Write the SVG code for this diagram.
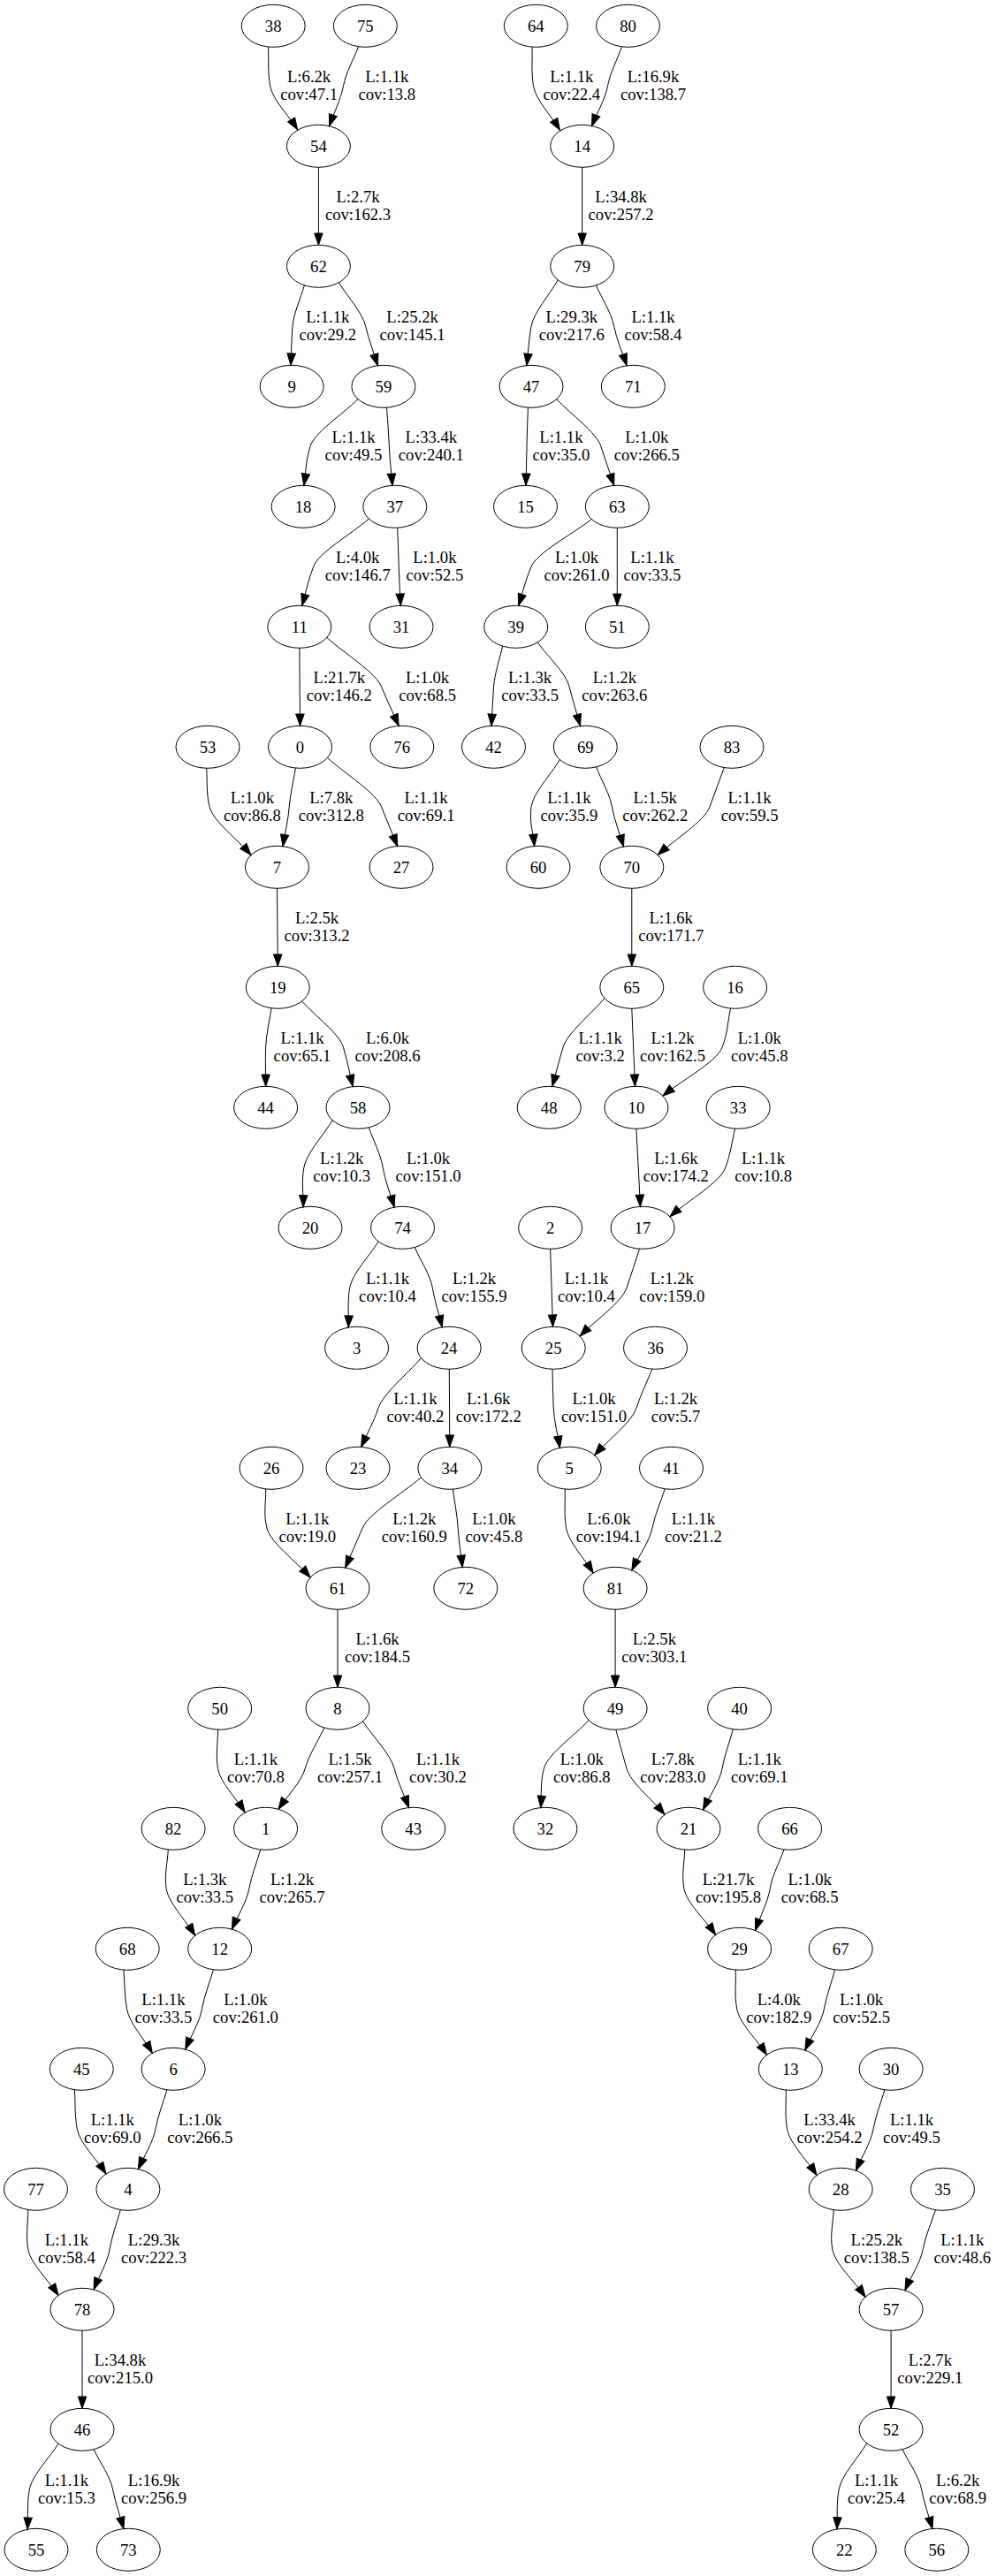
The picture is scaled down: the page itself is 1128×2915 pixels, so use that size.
<svg xmlns="http://www.w3.org/2000/svg" width="1128" height="2915" viewBox="0 0 1128 2915">
<defs>
<style>
.n ellipse{fill:none;stroke:#000;stroke-width:1}
text{font-family:"Liberation Serif","Times New Roman",serif;font-size:18.67px;text-anchor:middle;fill:#000}
.e path{fill:none;stroke:#000;stroke-width:1;marker-end:url(#ah)}
</style>
<marker id="ah" viewBox="0 0 13.3 9.4" refX="13.3" refY="4.7" markerWidth="13.3" markerHeight="9.4" markerUnits="userSpaceOnUse" orient="auto" overflow="visible"><path d="M0,0 L13.3,4.7 L0,9.4 Z" fill="#000" stroke="#000" stroke-width="1"/></marker>
</defs>
<rect width="1128" height="2915" fill="#fff"/>
<g id="connectors" class="e">
<g id="e38_54"><path d="M303.5,53 C304.2,67.8 302.8,81.7 305.6,97.3 S326.3,130.2 336.6,146.7"/><text x="349.6" y="93.3">L:6.2k<tspan x="349.6" dy="20">cov:47.1</tspan></text></g>
<g id="e75_54"><path d="M405.5,53 C399.8,67.8 391.3,82.3 388.5,97.3 S377.8,127.6 372.5,142.7"/><text x="437.8" y="93.3">L:1.1k<tspan x="437.8" dy="20">cov:13.8</tspan></text></g>
<g id="e64_14"><path d="M602,53.3 C602.5,68 600.9,81.6 603.5,97.3 S623.5,130.6 633.5,147.3"/><text x="646.8" y="93.3">L:1.1k<tspan x="646.8" dy="20">cov:22.4</tspan></text></g>
<g id="e80_14"><path d="M703.5,53 C698.2,67.8 690.3,82.3 687.5,97.3 S675.5,127.6 669.5,142.7"/><text x="739" y="93.3">L:16.9k<tspan x="739" dy="20">cov:138.7</tspan></text></g>
<g id="e54_62"><path d="M360.4,189.3 L360.4,277.3"/><text x="405" y="229.3">L:2.7k<tspan x="405" dy="20">cov:162.3</tspan></text></g>
<g id="e14_79"><path d="M658.7,189.3 L658.7,277.3"/><text x="702.6" y="229.3">L:34.8k<tspan x="702.6" dy="20">cov:257.2</tspan></text></g>
<g id="e62_9"><path d="M344.4,322.8 C339.9,338.3 332.3,354.2 331,369.3 S329.7,398.6 329,413.3"/><text x="370.8" y="365.3">L:1.1k<tspan x="370.8" dy="20">cov:29.2</tspan></text></g>
<g id="e62_59"><path d="M383.4,319.8 C393.5,336.3 410,353.6 413.7,369.3 S422.8,398.9 427.4,413.7"/><text x="466.6" y="365.3">L:25.2k<tspan x="466.6" dy="20">cov:145.1</tspan></text></g>
<g id="e79_47"><path d="M631.3,316.9 C621.2,334.4 603.9,353.2 601,369.3 S597.7,398.8 596,413.5"/><text x="646.8" y="365.3">L:29.3k<tspan x="646.8" dy="20">cov:217.6</tspan></text></g>
<g id="e79_71"><path d="M674.5,322.9 C681.2,338.4 691.8,354.1 694.7,369.3 S704.3,399 709.1,413.8"/><text x="739" y="365.3">L:1.1k<tspan x="739" dy="20">cov:58.4</tspan></text></g>
<g id="e59_18"><path d="M405,451.6 C387,469.5 356,489 350.9,505.3 S346.2,534.6 343.8,549.3"/><text x="400" y="501.3">L:1.1k<tspan x="400" dy="20">cov:49.5</tspan></text></g>
<g id="e59_37"><path d="M437.5,461.2 C438.5,475.9 439.9,490.6 440.4,505.3 S442.8,534.7 444,549.4"/><text x="487.9" y="501.3">L:33.4k<tspan x="487.9" dy="20">cov:240.1</tspan></text></g>
<g id="e47_15"><path d="M597.4,461.2 C596.9,475.9 596.2,490.6 596,505.3 S595.3,534.6 595,549.3"/><text x="634.9" y="501.3">L:1.1k<tspan x="634.9" dy="20">cov:35.0</tspan></text></g>
<g id="e47_63"><path d="M629.8,451.7 C646.5,469.6 674.6,489 680,505.3 S689.8,534.7 694.7,549.4"/><text x="731.8" y="501.3">L:1.0k<tspan x="731.8" dy="20">cov:266.5</tspan></text></g>
<g id="e37_11"><path d="M417.3,587.1 C396.4,605.2 360.9,624.9 354.6,641.3 S345.9,670.7 341.6,685.4"/><text x="404.7" y="637.3">L:4.0k<tspan x="404.7" dy="20">cov:146.7</tspan></text></g>
<g id="e37_31"><path d="M449.7,597.2 C450.2,611.9 450.9,626.6 451.2,641.3 S452.6,670.6 453.3,685.3"/><text x="491.9" y="637.3">L:1.0k<tspan x="491.9" dy="20">cov:52.5</tspan></text></g>
<g id="e63_39"><path d="M669.3,587.5 C646.5,605.4 607.9,625 601,641.3 S591.4,670.7 586.6,685.4"/><text x="652.5" y="637.3">L:1.0k<tspan x="652.5" dy="20">cov:261.0</tspan></text></g>
<g id="e63_51"><path d="M698.3,597.3 L698.3,685.3"/><text x="737.9" y="637.3">L:1.1k<tspan x="737.9" dy="20">cov:33.5</tspan></text></g>
<g id="e11_0"><path d="M338.8,733.3 L339.5,821.3"/><text x="383.8" y="773.3">L:21.7k<tspan x="383.8" dy="20">cov:146.2</tspan></text></g>
<g id="e11_76"><path d="M369.8,721.5 C390.4,740.1 424.9,760.6 431.7,777.3 S444.7,806.7 451.2,821.4"/><text x="483.6" y="773.3">L:1.0k<tspan x="483.6" dy="20">cov:68.5</tspan></text></g>
<g id="e39_42"><path d="M568.6,731.1 C565.2,746.5 559.6,762.2 558.5,777.3 S556.8,806.7 556,821.4"/><text x="599.6" y="773.3">L:1.3k<tspan x="599.6" dy="20">cov:33.5</tspan></text></g>
<g id="e39_69"><path d="M608.2,726.9 C620.2,743.7 640.2,761.5 644.2,777.3 S652.4,806.8 656.5,821.6"/><text x="695.4" y="773.3">L:1.2k<tspan x="695.4" dy="20">cov:263.6</tspan></text></g>
<g id="e53_7"><path d="M233.6,869.3 C234.8,884 233,896.9 237.2,913.3 S268.4,949.4 284,967.5"/><text x="285.4" y="909.3">L:1.0k<tspan x="285.4" dy="20">cov:86.8</tspan></text></g>
<g id="e0_7"><path d="M334.4,869.1 C332,883.8 328.4,898.5 327.2,913.3 S322.4,942.9 320,957.7"/><text x="374.8" y="909.3">L:7.8k<tspan x="374.8" dy="20">cov:312.8</tspan></text></g>
<g id="e0_27"><path d="M370.5,857.5 C390.9,876.1 425.1,896.6 431.7,913.3 S443.7,942.8 449.7,957.5"/><text x="482.1" y="909.3">L:1.1k<tspan x="482.1" dy="20">cov:69.1</tspan></text></g>
<g id="e69_60"><path d="M633.4,859.6 C622.6,877.5 603.4,897 601,913.3 S603.4,942.8 604.6,957.5"/><text x="643.9" y="909.3">L:1.1k<tspan x="643.9" dy="20">cov:35.9</tspan></text></g>
<g id="e69_70"><path d="M674.5,867.9 C680.5,883 689.9,898.3 692.5,913.3 S701.2,943.2 705.5,958.1"/><text x="741.2" y="909.3">L:1.5k<tspan x="741.2" dy="20">cov:262.2</tspan></text></g>
<g id="e83_70"><path d="M819.3,868.6 C813.8,883.5 809,896.8 802.8,913.3 S763.8,949.4 744.3,967.5"/><text x="848.1" y="909.3">L:1.1k<tspan x="848.1" dy="20">cov:59.5</tspan></text></g>
<g id="e7_19"><path d="M313.5,1005.3 L314.3,1093.3"/><text x="358.6" y="1045.3">L:2.5k<tspan x="358.6" dy="20">cov:313.2</tspan></text></g>
<g id="e70_65"><path d="M714.8,1005.3 L714.8,1093.3"/><text x="759.2" y="1045.3">L:1.6k<tspan x="759.2" dy="20">cov:171.7</tspan></text></g>
<g id="e19_44"><path d="M307.1,1140.8 C304.9,1155.6 301.1,1170.5 300.6,1185.3 S300.6,1214.6 300.6,1229.3"/><text x="342" y="1181.3">L:1.1k<tspan x="342" dy="20">cov:65.1</tspan></text></g>
<g id="e19_58"><path d="M341.6,1132.9 C357.2,1150.4 383.7,1169.2 388.5,1185.3 S395.7,1214.8 399.3,1229.6"/><text x="438.5" y="1181.3">L:6.0k<tspan x="438.5" dy="20">cov:208.6</tspan></text></g>
<g id="e65_48"><path d="M683.9,1129.6 C668.3,1148.2 641.9,1168.7 637,1185.3 S628.9,1214.7 624.8,1229.4"/><text x="679.2" y="1181.3">L:1.1k<tspan x="679.2" dy="20">cov:3.2</tspan></text></g>
<g id="e65_10"><path d="M714.8,1141.3 L718.5,1229.3"/><text x="761" y="1181.3">L:1.2k<tspan x="761" dy="20">cov:162.5</tspan></text></g>
<g id="e16_10"><path d="M826.5,1141.1 C823.3,1155.8 823.4,1168.8 817,1185.3 S772.3,1221.8 750,1240"/><text x="859.3" y="1181.3">L:1.0k<tspan x="859.3" dy="20">cov:45.8</tspan></text></g>
<g id="e58_20"><path d="M376.2,1267.7 C365.4,1285.6 346.6,1304.9 343.8,1321.3 S343.3,1351 343.1,1365.9"/><text x="386.7" y="1317.3">L:1.2k<tspan x="386.7" dy="20">cov:10.3</tspan></text></g>
<g id="e58_74"><path d="M417.3,1275.9 C422.6,1291 430.8,1306.3 433.2,1321.3 S441.8,1351.2 446.1,1366.1"/><text x="484.6" y="1317.3">L:1.0k<tspan x="484.6" dy="20">cov:151.0</tspan></text></g>
<g id="e10_17"><path d="M719.9,1277.3 L724.5,1365.4"/><text x="764.9" y="1317.3">L:1.6k<tspan x="764.9" dy="20">cov:174.2</tspan></text></g>
<g id="e33_17"><path d="M831.6,1277.2 C828,1291.9 826.9,1304.7 820.8,1321.3 S778.9,1358.2 758,1376.7"/><text x="863.6" y="1317.3">L:1.1k<tspan x="863.6" dy="20">cov:10.8</tspan></text></g>
<g id="e74_3"><path d="M428.1,1404.9 C417.3,1422.4 398.5,1441.1 395.7,1457.3 S394.7,1487.2 394.2,1502.1"/><text x="438.5" y="1453.3">L:1.1k<tspan x="438.5" dy="20">cov:10.4</tspan></text></g>
<g id="e74_24"><path d="M469.2,1411.5 C475.9,1426.8 486.7,1442.2 489.3,1457.3 S496.6,1487 500.2,1501.9"/><text x="536.5" y="1453.3">L:1.2k<tspan x="536.5" dy="20">cov:155.9</tspan></text></g>
<g id="e2_25"><path d="M622.6,1413.3 L625.5,1501.3"/><text x="663.4" y="1453.3">L:1.1k<tspan x="663.4" dy="20">cov:10.4</tspan></text></g>
<g id="e17_25"><path d="M723.5,1413.2 C718.7,1427.9 714.6,1440.8 709,1457.3 S673.8,1493.8 656.2,1512"/><text x="760.3" y="1453.3">L:1.2k<tspan x="760.3" dy="20">cov:159.0</tspan></text></g>
<g id="e24_23"><path d="M476.4,1536.7 C460.3,1555.6 433.8,1576.5 428.1,1593.3 S415.1,1622.7 408.6,1637.4"/><text x="469.9" y="1589.3">L:1.1k<tspan x="469.9" dy="20">cov:40.2</tspan></text></g>
<g id="e24_34"><path d="M508.3,1549.3 L508.8,1637.3"/><text x="552.7" y="1589.3">L:1.6k<tspan x="552.7" dy="20">cov:172.2</tspan></text></g>
<g id="e25_5"><path d="M625,1549.3 C625.4,1564 625.5,1578.5 626.2,1593.3 S631,1623.4 633.4,1638.4"/><text x="672" y="1589.3">L:1.0k<tspan x="672" dy="20">cov:151.0</tspan></text></g>
<g id="e36_5"><path d="M737.9,1549.2 C731.9,1563.9 725.4,1577.1 720,1593.3 S688.5,1628.9 672.8,1646.7"/><text x="764.6" y="1589.3">L:1.2k<tspan x="764.6" dy="20">cov:5.7</tspan></text></g>
<g id="e26_61"><path d="M300.6,1684.9 C301.1,1699.7 297.8,1712.6 302,1729.3 S334.7,1766.4 351.1,1785"/><text x="347.8" y="1725.3">L:1.1k<tspan x="347.8" dy="20">cov:19.0</tspan></text></g>
<g id="e34_61"><path d="M476.4,1671.8 C454.3,1691 417.2,1712.3 410,1729.3 S397.1,1759.1 390.6,1774"/><text x="468.8" y="1725.3">L:1.2k<tspan x="468.8" dy="20">cov:160.9</tspan></text></g>
<g id="e34_72"><path d="M512.4,1685.2 C514.3,1699.9 517.3,1714.6 518.2,1729.3 S521.5,1758.7 523.2,1773.4"/><text x="558.9" y="1725.3">L:1.0k<tspan x="558.9" dy="20">cov:45.8</tspan></text></g>
<g id="e5_81"><path d="M639.2,1685.1 C639.7,1699.8 637.9,1713.5 640.6,1729.3 S660.9,1763.1 671.1,1780"/><text x="688.9" y="1725.3">L:6.0k<tspan x="688.9" dy="20">cov:194.1</tspan></text></g>
<g id="e41_81"><path d="M752.3,1684.8 C747.5,1699.6 741,1714 737.9,1729.3 S722.5,1761 714.8,1776.8"/><text x="784.4" y="1725.3">L:1.1k<tspan x="784.4" dy="20">cov:21.2</tspan></text></g>
<g id="e61_8"><path d="M382,1821.3 L382,1909.3"/><text x="427" y="1861.3">L:1.6k<tspan x="427" dy="20">cov:184.5</tspan></text></g>
<g id="e81_49"><path d="M696.1,1821.3 L696.1,1909.3"/><text x="740.4" y="1861.3">L:2.5k<tspan x="740.4" dy="20">cov:303.1</tspan></text></g>
<g id="e50_1"><path d="M246.5,1957.3 C246.5,1972 244,1985.7 246.5,2001.3 S266.8,2034.2 277,2050.7"/><text x="289.4" y="1997.3">L:1.1k<tspan x="289.4" dy="20">cov:70.8</tspan></text></g>
<g id="e8_1"><path d="M366.9,1955.1 C359.7,1970.5 349.5,1985.9 345.2,2001.3 S325.1,2032 315,2047.3"/><text x="396" y="1997.3">L:1.5k<tspan x="396" dy="20">cov:257.1</tspan></text></g>
<g id="e8_43"><path d="M410.6,1947.9 C422.4,1965.7 441.8,1985 446.1,2001.3 S457.1,2030.8 462.6,2045.5"/><text x="495.5" y="1997.3">L:1.1k<tspan x="495.5" dy="20">cov:30.2</tspan></text></g>
<g id="e49_32"><path d="M666.1,1946.6 C649.2,1964.8 619.9,1984.8 615.4,2001.3 S613,2030.8 611.8,2045.5"/><text x="658.3" y="1997.3">L:1.0k<tspan x="658.3" dy="20">cov:86.8</tspan></text></g>
<g id="e49_21"><path d="M696.8,1957.3 C700.9,1972 704.4,1985.3 709,2001.3 S737.7,2036 752,2053.4"/><text x="761.3" y="1997.3">L:7.8k<tspan x="761.3" dy="20">cov:283.0</tspan></text></g>
<g id="e40_21"><path d="M829.4,1956.8 C825.3,1971.6 819.8,1986.1 817,2001.3 S802.7,2032.4 795.5,2048"/><text x="859.3" y="1997.3">L:1.1k<tspan x="859.3" dy="20">cov:69.1</tspan></text></g>
<g id="e82_12"><path d="M190.3,2093 C189.6,2107.8 185.7,2121.1 188.2,2137.3 S209.9,2172.6 220.7,2190.2"/><text x="231.8" y="2133.3">L:1.3k<tspan x="231.8" dy="20">cov:33.5</tspan></text></g>
<g id="e1_12"><path d="M294.8,2093 C290.5,2107.8 284.5,2122.3 281.8,2137.3 S268.9,2167.8 262.4,2183.1"/><text x="330.5" y="2133.3">L:1.2k<tspan x="330.5" dy="20">cov:265.7</tspan></text></g>
<g id="e21_29"><path d="M774.7,2093.1 C774.4,2107.8 771,2121.3 773.9,2137.3 S797.7,2172 809.6,2189.4"/><text x="824" y="2133.3">L:21.7k<tspan x="824" dy="20">cov:195.8</tspan></text></g>
<g id="e66_29"><path d="M887,2092.9 C881.7,2107.7 873.9,2122 871.2,2137.3 S860.1,2168.8 854.6,2184.5"/><text x="916.2" y="2133.3">L:1.0k<tspan x="916.2" dy="20">cov:68.5</tspan></text></g>
<g id="e68_6"><path d="M139.9,2229.1 C141.1,2243.8 140.8,2257.6 143.5,2273.3 S162.7,2306.6 172.3,2323.3"/><text x="184.9" y="2269.3">L:1.1k<tspan x="184.9" dy="20">cov:33.5</tspan></text></g>
<g id="e12_6"><path d="M241.5,2228.8 C237.2,2243.6 231.1,2258.3 228.5,2273.3 S216,2303.8 209.8,2319.1"/><text x="277.9" y="2269.3">L:1.0k<tspan x="277.9" dy="20">cov:261.0</tspan></text></g>
<g id="e29_13"><path d="M832.3,2229.1 C832.8,2243.8 830.8,2257.3 833.7,2273.3 S856.2,2308 867.5,2325.3"/><text x="881.3" y="2269.3">L:4.0k<tspan x="881.3" dy="20">cov:182.9</tspan></text></g>
<g id="e67_13"><path d="M944.7,2228.9 C940.6,2243.7 935.2,2258.1 932.4,2273.3 S918,2304.4 910.8,2320"/><text x="974.6" y="2269.3">L:1.0k<tspan x="974.6" dy="20">cov:52.5</tspan></text></g>
<g id="e45_4"><path d="M84.4,2364.7 C85.4,2379.6 84.3,2393.4 87.3,2409.3 S109.1,2443.1 120,2460"/><text x="127.3" y="2405.3">L:1.1k<tspan x="127.3" dy="20">cov:69.0</tspan></text></g>
<g id="e6_4"><path d="M188.9,2364.8 C184.6,2379.6 178.6,2394.3 175.9,2409.3 S163,2439.5 156.5,2454.6"/><text x="226.4" y="2405.3">L:1.0k<tspan x="226.4" dy="20">cov:266.5</tspan></text></g>
<g id="e13_28"><path d="M889.2,2365.1 C889.7,2379.8 887.7,2393.2 890.6,2409.3 S912.9,2444.2 924,2461.6"/><text x="938.6" y="2405.3">L:33.4k<tspan x="938.6" dy="20">cov:254.2</tspan></text></g>
<g id="e30_28"><path d="M1000.9,2364.8 C996.6,2379.6 990.7,2394.1 988,2409.3 S975,2440.6 968.5,2456.2"/><text x="1031.5" y="2405.3">L:1.1k<tspan x="1031.5" dy="20">cov:49.5</tspan></text></g>
<g id="e77_78"><path d="M31.8,2500.6 C31.8,2515.5 29,2529.2 31.8,2545.3 S54.6,2580 66,2597.4"/><text x="75.4" y="2541.3">L:1.1k<tspan x="75.4" dy="20">cov:58.4</tspan></text></g>
<g id="e4_78"><path d="M136.3,2500.6 C132.2,2515.5 126.6,2530.3 124.1,2545.3 S112.1,2575.7 106.1,2590.9"/><text x="174.1" y="2541.3">L:29.3k<tspan x="174.1" dy="20">cov:222.3</tspan></text></g>
<g id="e28_57"><path d="M943.2,2500.7 C942.7,2515.6 938.8,2528.9 941.8,2545.3 S966.6,2581.2 979,2599.2"/><text x="991.9" y="2541.3">L:25.2k<tspan x="991.9" dy="20">cov:138.5</tspan></text></g>
<g id="e35_57"><path d="M1058.5,2500.7 C1053.7,2515.6 1047.1,2530.1 1044.2,2545.3 S1030.7,2576.2 1023.9,2591.7"/><text x="1088.8" y="2541.3">L:1.1k<tspan x="1088.8" dy="20">cov:48.6</tspan></text></g>
<g id="e78_46"><path d="M93,2637.3 L93,2725.3"/><text x="136" y="2677.3">L:34.8k<tspan x="136" dy="20">cov:215.0</tspan></text></g>
<g id="e57_52"><path d="M1008.1,2637.3 L1008.1,2725.3"/><text x="1052.4" y="2677.3">L:2.7k<tspan x="1052.4" dy="20">cov:229.1</tspan></text></g>
<g id="e46_55"><path d="M66,2765.2 C55.1,2782.6 36.2,2801.1 33.3,2817.3 S31.8,2847.2 31.1,2862.2"/><text x="75.4" y="2813.3">L:1.1k<tspan x="75.4" dy="20">cov:15.3</tspan></text></g>
<g id="e46_73"><path d="M106.1,2771.7 C113.3,2786.9 124.9,2802.3 127.7,2817.3 S135.8,2846.8 139.9,2861.6"/><text x="174.1" y="2813.3">L:16.9k<tspan x="174.1" dy="20">cov:256.9</tspan></text></g>
<g id="e52_22"><path d="M980.7,2764.9 C970.2,2782.4 951.9,2801.1 949.1,2817.3 S947.6,2847.1 946.9,2862"/><text x="991.5" y="2813.3">L:1.1k<tspan x="991.5" dy="20">cov:25.4</tspan></text></g>
<g id="e52_56"><path d="M1021.1,2771.7 C1028.3,2786.9 1039.9,2802.3 1042.7,2817.3 S1050.8,2846.8 1054.9,2861.5"/><text x="1083.7" y="2813.3">L:6.2k<tspan x="1083.7" dy="20">cov:68.9</tspan></text></g>
</g>
<g id="nodes" class="n">
<g id="n38"><ellipse cx="309.2" cy="29.3" rx="36" ry="24"/><text x="309.2" y="35.8">38</text></g>
<g id="n75"><ellipse cx="413.3" cy="29.3" rx="36" ry="24"/><text x="413.3" y="35.8">75</text></g>
<g id="n64"><ellipse cx="606.3" cy="29.3" rx="36" ry="24"/><text x="606.3" y="35.8">64</text></g>
<g id="n80"><ellipse cx="710.5" cy="29.3" rx="36" ry="24"/><text x="710.5" y="35.8">80</text></g>
<g id="n54"><ellipse cx="360.4" cy="165.3" rx="36" ry="24"/><text x="360.4" y="171.8">54</text></g>
<g id="n14"><ellipse cx="658.7" cy="165.3" rx="36" ry="24"/><text x="658.7" y="171.8">14</text></g>
<g id="n62"><ellipse cx="360.4" cy="301.3" rx="36" ry="24"/><text x="360.4" y="307.8">62</text></g>
<g id="n79"><ellipse cx="658.7" cy="301.3" rx="36" ry="24"/><text x="658.7" y="307.8">79</text></g>
<g id="n9"><ellipse cx="330.1" cy="437.3" rx="36" ry="24"/><text x="330.1" y="443.8">9</text></g>
<g id="n59"><ellipse cx="433.9" cy="437.3" rx="36" ry="24"/><text x="433.9" y="443.8">59</text></g>
<g id="n47"><ellipse cx="601" cy="437.3" rx="36" ry="24"/><text x="601" y="443.8">47</text></g>
<g id="n71"><ellipse cx="716.3" cy="437.3" rx="36" ry="24"/><text x="716.3" y="443.8">71</text></g>
<g id="n18"><ellipse cx="343.1" cy="573.3" rx="36" ry="24"/><text x="343.1" y="579.8">18</text></g>
<g id="n37"><ellipse cx="446.8" cy="573.3" rx="36" ry="24"/><text x="446.8" y="579.8">37</text></g>
<g id="n15"><ellipse cx="594.5" cy="573.3" rx="36" ry="24"/><text x="594.5" y="579.8">15</text></g>
<g id="n63"><ellipse cx="698.3" cy="573.3" rx="36" ry="24"/><text x="698.3" y="579.8">63</text></g>
<g id="n11"><ellipse cx="338.8" cy="709.3" rx="36" ry="24"/><text x="338.8" y="715.8">11</text></g>
<g id="n31"><ellipse cx="454" cy="709.3" rx="36" ry="24"/><text x="454" y="715.8">31</text></g>
<g id="n39"><ellipse cx="583.7" cy="709.3" rx="36" ry="24"/><text x="583.7" y="715.8">39</text></g>
<g id="n51"><ellipse cx="698.3" cy="709.3" rx="36" ry="24"/><text x="698.3" y="715.8">51</text></g>
<g id="n53"><ellipse cx="235" cy="845.3" rx="36" ry="24"/><text x="235" y="851.8">53</text></g>
<g id="n0"><ellipse cx="339.5" cy="845.3" rx="36" ry="24"/><text x="339.5" y="851.8">0</text></g>
<g id="n76"><ellipse cx="454.8" cy="845.3" rx="36" ry="24"/><text x="454.8" y="851.8">76</text></g>
<g id="n42"><ellipse cx="558.5" cy="845.3" rx="36" ry="24"/><text x="558.5" y="851.8">42</text></g>
<g id="n69"><ellipse cx="662.3" cy="845.3" rx="36" ry="24"/><text x="662.3" y="851.8">69</text></g>
<g id="n83"><ellipse cx="828" cy="845.3" rx="36" ry="24"/><text x="828" y="851.8">83</text></g>
<g id="n7"><ellipse cx="313.5" cy="981.3" rx="36" ry="24"/><text x="313.5" y="987.8">7</text></g>
<g id="n27"><ellipse cx="454" cy="981.3" rx="36" ry="24"/><text x="454" y="987.8">27</text></g>
<g id="n60"><ellipse cx="609" cy="981.3" rx="36" ry="24"/><text x="609" y="987.8">60</text></g>
<g id="n70"><ellipse cx="714.8" cy="981.3" rx="36" ry="24"/><text x="714.8" y="987.8">70</text></g>
<g id="n19"><ellipse cx="314.3" cy="1117.3" rx="36" ry="24"/><text x="314.3" y="1123.8">19</text></g>
<g id="n65"><ellipse cx="714.8" cy="1117.3" rx="36" ry="24"/><text x="714.8" y="1123.8">65</text></g>
<g id="n16"><ellipse cx="831.6" cy="1117.3" rx="36" ry="24"/><text x="831.6" y="1123.8">16</text></g>
<g id="n44"><ellipse cx="300.6" cy="1253.3" rx="36" ry="24"/><text x="300.6" y="1259.8">44</text></g>
<g id="n58"><ellipse cx="405" cy="1253.3" rx="36" ry="24"/><text x="405" y="1259.8">58</text></g>
<g id="n48"><ellipse cx="621.2" cy="1253.3" rx="36" ry="24"/><text x="621.2" y="1259.8">48</text></g>
<g id="n10"><ellipse cx="719.9" cy="1253.3" rx="36" ry="24"/><text x="719.9" y="1259.8">10</text></g>
<g id="n33"><ellipse cx="835.2" cy="1253.3" rx="36" ry="24"/><text x="835.2" y="1259.8">33</text></g>
<g id="n20"><ellipse cx="351" cy="1389.3" rx="36" ry="24"/><text x="351" y="1395.8">20</text></g>
<g id="n74"><ellipse cx="455.5" cy="1389.3" rx="36" ry="24"/><text x="455.5" y="1395.8">74</text></g>
<g id="n2"><ellipse cx="622.6" cy="1389.3" rx="36" ry="24"/><text x="622.6" y="1395.8">2</text></g>
<g id="n17"><ellipse cx="727.1" cy="1389.3" rx="36" ry="24"/><text x="727.1" y="1395.8">17</text></g>
<g id="n3"><ellipse cx="403.6" cy="1525.3" rx="36" ry="24"/><text x="403.6" y="1531.8">3</text></g>
<g id="n24"><ellipse cx="508.1" cy="1525.3" rx="36" ry="24"/><text x="508.1" y="1531.8">24</text></g>
<g id="n25"><ellipse cx="626.2" cy="1525.3" rx="36" ry="24"/><text x="626.2" y="1531.8">25</text></g>
<g id="n36"><ellipse cx="741.5" cy="1525.3" rx="36" ry="24"/><text x="741.5" y="1531.8">36</text></g>
<g id="n26"><ellipse cx="307" cy="1661.3" rx="36" ry="24"/><text x="307" y="1667.8">26</text></g>
<g id="n23"><ellipse cx="405" cy="1661.3" rx="36" ry="24"/><text x="405" y="1667.8">23</text></g>
<g id="n34"><ellipse cx="508.8" cy="1661.3" rx="36" ry="24"/><text x="508.8" y="1667.8">34</text></g>
<g id="n5"><ellipse cx="644.2" cy="1661.3" rx="36" ry="24"/><text x="644.2" y="1667.8">5</text></g>
<g id="n41"><ellipse cx="759.5" cy="1661.3" rx="36" ry="24"/><text x="759.5" y="1667.8">41</text></g>
<g id="n61"><ellipse cx="382" cy="1797.3" rx="36" ry="24"/><text x="382" y="1803.8">61</text></g>
<g id="n72"><ellipse cx="526.8" cy="1797.3" rx="36" ry="24"/><text x="526.8" y="1803.8">72</text></g>
<g id="n81"><ellipse cx="696.1" cy="1797.3" rx="36" ry="24"/><text x="696.1" y="1803.8">81</text></g>
<g id="n50"><ellipse cx="248.7" cy="1933.3" rx="36" ry="24"/><text x="248.7" y="1939.8">50</text></g>
<g id="n8"><ellipse cx="382" cy="1933.3" rx="36" ry="24"/><text x="382" y="1939.8">8</text></g>
<g id="n49"><ellipse cx="696.1" cy="1933.3" rx="36" ry="24"/><text x="696.1" y="1939.8">49</text></g>
<g id="n40"><ellipse cx="836.6" cy="1933.3" rx="36" ry="24"/><text x="836.6" y="1939.8">40</text></g>
<g id="n82"><ellipse cx="196.1" cy="2069.3" rx="36" ry="24"/><text x="196.1" y="2075.8">82</text></g>
<g id="n1"><ellipse cx="300.6" cy="2069.3" rx="36" ry="24"/><text x="300.6" y="2075.8">1</text></g>
<g id="n43"><ellipse cx="467.7" cy="2069.3" rx="36" ry="24"/><text x="467.7" y="2075.8">43</text></g>
<g id="n32"><ellipse cx="616.9" cy="2069.3" rx="36" ry="24"/><text x="616.9" y="2075.8">32</text></g>
<g id="n21"><ellipse cx="779" cy="2069.3" rx="36" ry="24"/><text x="779" y="2075.8">21</text></g>
<g id="n66"><ellipse cx="893.6" cy="2069.3" rx="36" ry="24"/><text x="893.6" y="2075.8">66</text></g>
<g id="n68"><ellipse cx="144.2" cy="2205.3" rx="36" ry="24"/><text x="144.2" y="2211.8">68</text></g>
<g id="n12"><ellipse cx="248.7" cy="2205.3" rx="36" ry="24"/><text x="248.7" y="2211.8">12</text></g>
<g id="n29"><ellipse cx="836.6" cy="2205.3" rx="36" ry="24"/><text x="836.6" y="2211.8">29</text></g>
<g id="n67"><ellipse cx="951.2" cy="2205.3" rx="36" ry="24"/><text x="951.2" y="2211.8">67</text></g>
<g id="n45"><ellipse cx="92.3" cy="2341.3" rx="36" ry="24"/><text x="92.3" y="2347.8">45</text></g>
<g id="n6"><ellipse cx="196.1" cy="2341.3" rx="36" ry="24"/><text x="196.1" y="2347.8">6</text></g>
<g id="n13"><ellipse cx="894.3" cy="2341.3" rx="36" ry="24"/><text x="894.3" y="2347.8">13</text></g>
<g id="n30"><ellipse cx="1008.1" cy="2341.3" rx="36" ry="24"/><text x="1008.1" y="2347.8">30</text></g>
<g id="n77"><ellipse cx="40.5" cy="2477.3" rx="36" ry="24"/><text x="40.5" y="2483.8">77</text></g>
<g id="n4"><ellipse cx="144.9" cy="2477.3" rx="36" ry="24"/><text x="144.9" y="2483.8">4</text></g>
<g id="n28"><ellipse cx="951.2" cy="2477.3" rx="36" ry="24"/><text x="951.2" y="2483.8">28</text></g>
<g id="n35"><ellipse cx="1066.5" cy="2477.3" rx="36" ry="24"/><text x="1066.5" y="2483.8">35</text></g>
<g id="n78"><ellipse cx="93" cy="2613.3" rx="36" ry="24"/><text x="93" y="2619.8">78</text></g>
<g id="n57"><ellipse cx="1008.1" cy="2613.3" rx="36" ry="24"/><text x="1008.1" y="2619.8">57</text></g>
<g id="n46"><ellipse cx="93" cy="2749.3" rx="36" ry="24"/><text x="93" y="2755.8">46</text></g>
<g id="n52"><ellipse cx="1008.1" cy="2749.3" rx="36" ry="24"/><text x="1008.1" y="2755.8">52</text></g>
<g id="n55"><ellipse cx="41" cy="2885.3" rx="36" ry="24"/><text x="41" y="2891.8">55</text></g>
<g id="n73"><ellipse cx="145.3" cy="2885.3" rx="36" ry="24"/><text x="145.3" y="2891.8">73</text></g>
<g id="n22"><ellipse cx="955.3" cy="2885.3" rx="36" ry="24"/><text x="955.3" y="2891.8">22</text></g>
<g id="n56"><ellipse cx="1059.8" cy="2885.3" rx="36" ry="24"/><text x="1059.8" y="2891.8">56</text></g>
</g>
</svg>
